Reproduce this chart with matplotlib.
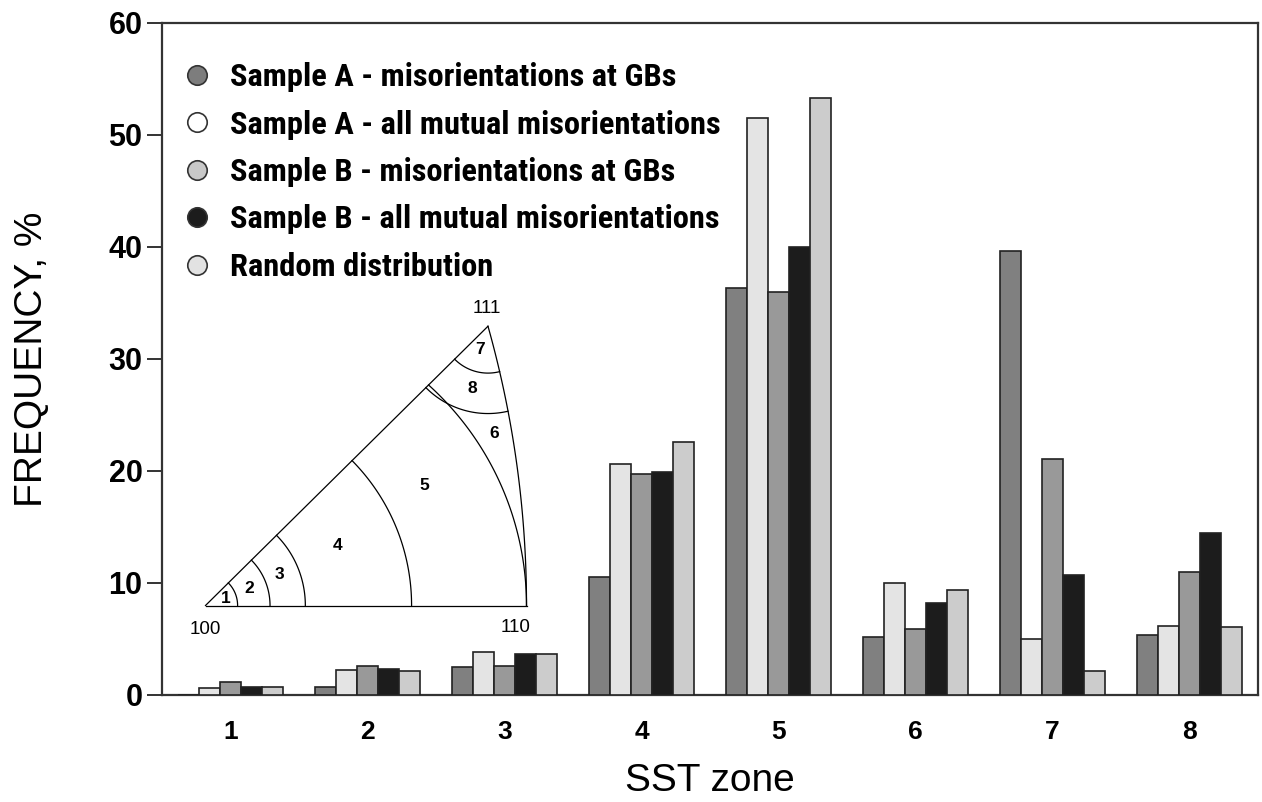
import numpy as np
import matplotlib
matplotlib.use("Agg")
import matplotlib.pyplot as plt
from matplotlib.lines import Line2D
from matplotlib import font_manager as fm

# ---------------- data ----------------
zones = [1, 2, 3, 4, 5, 6, 7, 8]
series_labels = [
    "Sample A - misorientations at GBs",
    "Sample A - all mutual misorientations",
    "Sample B - misorientations at GBs",
    "Sample B - all mutual misorientations",
    "Random distribution",
]
a_gb = [0.0, 0.75, 2.5, 10.5, 36.3, 5.2, 39.6, 5.4]
a_all = [0.6, 2.2, 3.85, 20.6, 51.5, 10.0, 5.0, 6.2]
b_gb = [1.2, 2.6, 2.6, 19.7, 36.0, 5.9, 21.1, 11.0]
b_all = [0.75, 2.3, 3.7, 19.9, 40.0, 8.2, 10.7, 14.5]
random_dist = [0.75, 2.15, 3.7, 22.6, 53.3, 9.4, 2.1, 6.1]
yticks = [0, 10, 20, 30, 40, 50, 60]

inset_zone_labels = ["1", "2", "3", "4", "5", "6", "7", "8"]
pole_labels = ["100", "110", "111"]

# ---------------- style ----------------
bar_colors = ["#808080", "#e4e4e4", "#999999", "#1c1c1c", "#cccccc"]
legend_colors = ["#7d7d7d", "#ffffff", "#c8c8c8", "#1c1c1c", "#e2e2e2"]
edge = "#222222"

cond_font = None
for f in fm.fontManager.ttflist:
    if f.stretch in ("condensed", "semi-condensed", "extra-condensed") and \
            (f.weight in ("bold", 700, "heavy", "black", 800, 900)):
        cond_font = f
        break
names = {f.name for f in fm.fontManager.ttflist}
for cand in ["Roboto Condensed", "Liberation Sans Narrow", "Open Sans Condensed",
             "DejaVu Sans Condensed"]:
    if cand in names:
        cond_font = cand
        break

fig = plt.figure(figsize=(12.62, 8.02), dpi=100)
fig.patch.set_facecolor("white")
ax = fig.add_axes([0.12837, 0.13342, 0.86846, 0.83791])

series = [a_gb, a_all, b_gb, b_all, random_dist]
x = np.arange(len(zones)) + 1
w = 0.152
for i, (vals, col) in enumerate(zip(series, bar_colors)):
    ax.bar(x + (i - 2) * w, vals, width=w, color=col, edgecolor=edge,
           linewidth=1.2, zorder=3)

ax.set_xlim(0.5, 8.5)
ax.set_ylim(0, 60)
ax.set_yticks(yticks)
ax.set_xticks(x)
ax.set_xticklabels([str(z) for z in zones])
for sp in ax.spines.values():
    sp.set_linewidth(1.6)
    sp.set_color("#333333")
ax.tick_params(axis="y", direction="out", length=11, width=1.4, color="#333333",
               pad=3, labelsize=22)
ax.tick_params(axis="x", length=0, pad=18, labelsize=19)
for lab in ax.get_yticklabels() + ax.get_xticklabels():
    lab.set_fontfamily("Liberation Sans")
    lab.set_fontweight("bold")

ax.set_xlabel("SST zone", fontsize=28, family="Liberation Sans", labelpad=14)
ax.set_ylabel("FREQUENCY, %", fontsize=28, family="Liberation Sans", labelpad=42)

if isinstance(cond_font, str):
    prop = fm.FontProperties(family=[cond_font, "DejaVu Sans"], weight="bold", size=22)
elif cond_font is not None:
    prop = fm.FontProperties(fname=cond_font.fname, size=22)
else:
    prop = fm.FontProperties(family=["Liberation Sans", "DejaVu Sans"], weight="bold", size=22)

renderer = fig.canvas.get_renderer()
tt = fig.text(0, 0, series_labels[0], fontproperties=prop)
wpx = tt.get_window_extent(renderer).width
tt.remove()
size = min(22 * 447.0 / wpx, 24)
prop.set_size(size)
fs_px = size / 72 * 100

handles = [Line2D([], [], marker="o", linestyle="none", markersize=14,
                  markerfacecolor=c, markeredgecolor="#333333", markeredgewidth=1.2)
           for c in legend_colors]
hl = 30.6 / fs_px
htp = (230 - 181.7 - 30.6) / fs_px
row_target = 47.5
first_target = 77.0
lsp = 0.5
ytop = 0.95


def make_legend(lsp, ytop):
    return ax.legend(handles, series_labels, loc="upper left",
                     bbox_to_anchor=(0.018, ytop), frameon=False,
                     borderaxespad=0, borderpad=0, handlelength=hl,
                     handletextpad=htp, labelspacing=lsp, prop=prop)


for _ in range(3):
    leg = make_legend(lsp, ytop)
    fig.canvas.draw()
    ys = []
    for t in leg.get_texts():
        bb = t.get_window_extent(renderer)
        ys.append(802 - (bb.y0 + bb.y1) / 2)
    spacing = (ys[-1] - ys[0]) / (len(ys) - 1)
    lsp += (row_target - spacing) / fs_px
    ytop -= (first_target - ys[0]) / 672.0
    leg.remove()
leg = make_legend(lsp, ytop)

# ---------------- inset: standard stereographic triangle ----------------
ix0, ix1, iy0, iy1 = -0.1, 1.1, -0.15, 0.95
px_per_unit = 321.0
left_px = 205.5 + ix0 * px_per_unit
bottom_px = 605.5 - iy0 * px_per_unit
wid_px = (ix1 - ix0) * px_per_unit
hei_px = (iy1 - iy0) * px_per_unit
axi = fig.add_axes([left_px / 1262, (802 - bottom_px) / 802, wid_px / 1262, hei_px / 802])
axi.set_xlim(ix0, ix1)
axi.set_ylim(iy0, iy1)
axi.axis("off")
axi.patch.set_alpha(0)

lw = 0.9
apex = np.array([0.88, 0.87])
th_a = np.arctan2(apex[1], apex[0])
c2 = ((apex[0] ** 2 + apex[1] ** 2) - 1) / (2 * (apex[0] - 1))
r2 = 1 - c2
phi_a = np.arctan2(apex[1], apex[0] - c2)

axi.plot([0, 1], [0, 0], color="k", lw=lw)
axi.plot([0, apex[0]], [0, apex[1]], color="k", lw=lw)
phi = np.linspace(0, phi_a, 100)
axi.plot(c2 + r2 * np.cos(phi), r2 * np.sin(phi), color="k", lw=lw)

for r in [0.100, 0.201, 0.311, 0.642]:
    t = np.linspace(0, th_a, 100)
    axi.plot(r * np.cos(t), r * np.sin(t), color="k", lw=lw)

c56 = 0.074
r56 = 1 - c56
u = np.array([np.cos(th_a), np.sin(th_a)])
b = -2 * c56 * u[0]
cc = c56 ** 2 - r56 ** 2
tpar = (-b + np.sqrt(b * b - 4 * cc)) / 2
p_int = tpar * u
ang_end = np.arctan2(p_int[1], p_int[0] - c56)
t = np.linspace(0, ang_end, 100)
axi.plot(c56 + r56 * np.cos(t), r56 * np.sin(t), color="k", lw=lw)


def circle_inter(p0, r0, p1, r1):
    d = np.linalg.norm(p1 - p0)
    a = (r0 ** 2 - r1 ** 2 + d ** 2) / (2 * d)
    h = np.sqrt(max(r0 ** 2 - a ** 2, 0))
    p2 = p0 + a * (p1 - p0) / d
    perp = np.array([-(p1 - p0)[1], (p1 - p0)[0]]) / d
    q1, q2 = p2 + h * perp, p2 - h * perp
    return q1 if q1[1] < q2[1] else q2


for rr in [0.272, 0.146]:
    pe = apex - rr * u
    pr = circle_inter(apex, rr, np.array([c2, 0.0]), r2)
    a1 = np.arctan2(pe[1] - apex[1], pe[0] - apex[0])
    a2 = np.arctan2(pr[1] - apex[1], pr[0] - apex[0])
    if a2 < a1:
        a2 += 2 * np.pi
    t = np.linspace(a1, a2, 100)
    axi.plot(apex[0] + rr * np.cos(t), apex[1] + rr * np.sin(t), color="k", lw=lw)

zone_pos = [(0.063, 0.023), (0.135, 0.054), (0.229, 0.096), (0.411, 0.186),
            (0.683, 0.375), (0.898, 0.535), (0.856, 0.798), (0.830, 0.675)]
for lab, (xx, yy) in zip(inset_zone_labels, zone_pos):
    axi.text(xx, yy, lab, fontsize=12.5, fontweight="bold", family="Liberation Sans",
             ha="center", va="center")

pole_pos = [(0.0, -0.075), (0.965, -0.07), (0.875, 0.925)]
for lab, (xx, yy) in zip(pole_labels, pole_pos):
    axi.text(xx, yy, lab, fontsize=13.5, family="Liberation Sans",
             ha="center", va="center")

fig.savefig("out.png", dpi=100, facecolor="white")
